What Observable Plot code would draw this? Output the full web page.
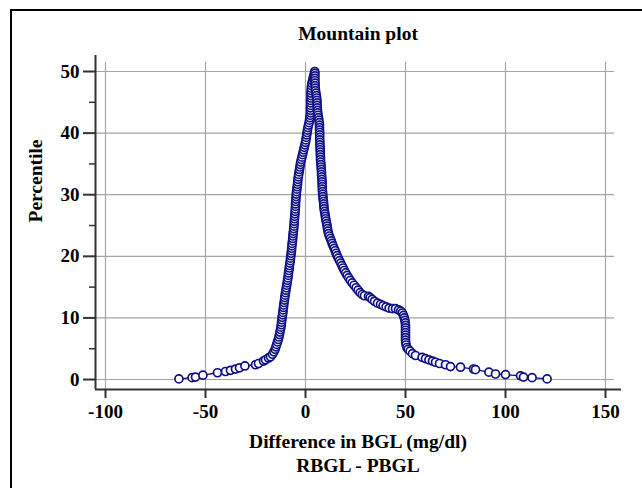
<!DOCTYPE html>
<html>
<head>
<meta charset="utf-8">
<script src="https://cdn.jsdelivr.net/npm/d3@7"></script>
<script src="https://cdn.jsdelivr.net/npm/@observablehq/plot@0.6"></script>
<style>
  html, body { margin: 0; padding: 0; background: #fff; overflow: hidden; }
  #wrap { position: relative; width: 642px; height: 488px; }
  #wrap svg { position: absolute; left: 0; top: 0; }
  #border { position: absolute; left: 10px; top: 9px; width: 700px; height: 600px;
            border-left: 2px solid #000; border-top: 2px solid #000; pointer-events: none; }
</style>
</head>
<body>
<div id="wrap"><div id="border"></div></div>
<script>
// Rising side of the mountain (sorted differences, RBGL - PBGL, mg/dl)
const riseX = [
  -63.3,-56.7,-55,-51.3,-44,-40,-37.5,-35,-33,-30.3,-25,-23.5,-21,-20,-18.5,-17.5,-16.5,-15.8,
  -15.2,-14.8,-14.4,-14.0,-13.6,-13.3,-13.0,-12.8,-12.5,-12.3,
  -12.1,-12.0,-11.8,-11.7,-11.5,-11.3,-11.2,-11.0,-10.9,-10.7,
  -10.5,-10.4,-10.2,-10.0,-9.8,-9.6,-9.4,-9.2,-9.0,-8.8,
  -8.6,-8.5,-8.3,-8.1,-8.0,-7.8,-7.6,-7.5,-7.3,-7.2,
  -7.0,-6.9,-6.8,-6.7,-6.5,-6.4,-6.3,-6.2,-6.0,-5.9,
  -5.8,-5.7,-5.6,-5.5,-5.4,-5.3,-5.2,-5.1,-5.0,-5.0,
  -4.9,-4.8,-4.7,-4.6,-4.5,-4.3,-4.2,-4.0,-3.9,-3.8,
  -3.6,-3.4,-3.2,-3.0,-2.8,-2.6,-2.4,-2.1,-1.8,-1.5,
  -1.2,-0.9,-0.6,-0.3,0.0,0.2,0.4,0.6,0.8,1.0,
  1.2,1.5,1.8,2.0,2.2,2.4,2.5,2.5,2.5,2.6,
  2.6,2.6,2.7,2.7,2.7,2.8,2.9,3.0,3.2,3.5,
  3.8,4.1,4.4,4.6
];
// Percentile for each rising point
const riseY = [
  0.1,0.3,0.4,0.7,1.1,1.3,1.5,1.7,1.9,2.2,2.4,2.6,3.0,3.2,3.5,3.7,4.1,4.5,
  4.9,5.3,5.7,6.1,6.5,6.9,7.3,7.7,8.1,8.5,
  8.9,9.3,9.7,10.1,10.5,10.9,11.3,11.7,12.1,12.5,
  12.9,13.3,13.7,14.1,14.5,14.9,15.3,15.7,16.1,16.5,
  16.9,17.3,17.7,18.1,18.5,18.9,19.3,19.7,20.1,20.5,
  20.9,21.3,21.7,22.1,22.5,22.9,23.3,23.7,24.1,24.5,
  24.9,25.3,25.7,26.1,26.5,26.9,27.3,27.7,28.1,28.5,
  28.9,29.3,29.7,30.1,30.5,30.9,31.3,31.7,32.1,32.5,
  32.9,33.3,33.7,34.1,34.5,34.9,35.3,35.7,36.1,36.5,
  36.9,37.3,37.7,38.1,38.5,38.9,39.3,39.7,40.1,40.5,
  40.9,41.3,41.7,42.1,42.5,42.9,43.3,43.7,44.1,44.5,
  44.9,45.3,45.7,46.1,46.5,46.9,47.3,47.7,48.1,48.5,
  48.9,49.3,49.7,50.0
];
// Falling side of the mountain
const fallX = [
  4.7,4.7,4.7,4.7,4.8,4.8,4.9,5.0,5.2,5.4,
  5.6,5.7,5.8,5.8,5.9,6.0,6.1,6.3,6.5,6.7,
  6.9,7.0,7.0,7.0,7.1,7.1,7.1,7.1,7.2,7.2,
  7.3,7.3,7.4,7.4,7.5,7.5,7.6,7.7,7.8,7.9,
  8.0,8.0,8.1,8.2,8.3,8.3,8.4,8.4,8.5,8.6,
  8.7,8.8,9.0,9.1,9.2,9.3,9.5,9.7,9.9,10.1,
  10.3,10.6,10.8,11.0,11.2,11.5,11.9,12.4,12.9,13.3,
  13.8,14.3,14.8,15.3,15.8,16.4,17.0,17.6,18.2,18.8,
  19.4,20.1,20.8,21.6,22.4,23.3,24.3,25.3,26.3,27.3,
  28.4,29.5,31.5,32.3,33.3,34.5,36.0,37.5,38.8,40.3,
  41.8,43.5,45.0,46.5,47.6,48.4,49.0,49.4,49.7,49.9,
  50.0,50.0,50.0,50.0,50.0,50.0,50.0,50.1,50.3,50.7,
  51.3,52.3,53.5,55.0,58.3,60.0,61.7,63.5,65.0,67.0,
  70.0,72.5,77.5,84.0,85.0,91.7,95.0,100.0,107.5,109.0,
  113.3,120.8
];
const fallY = [
  49.7,49.3,48.9,48.5,48.1,47.7,47.3,46.9,46.5,46.1,
  45.7,45.3,44.9,44.5,44.1,43.7,43.3,42.9,42.5,42.1,
  41.7,41.3,40.9,40.5,40.1,39.7,39.3,38.9,38.5,38.1,
  37.7,37.3,36.9,36.5,36.1,35.7,35.3,34.9,34.5,34.1,
  33.7,33.3,32.9,32.5,32.1,31.7,31.3,30.9,30.5,30.1,
  29.7,29.3,28.9,28.5,28.1,27.7,27.3,26.9,26.5,26.1,
  25.7,25.3,24.9,24.5,24.1,23.7,23.3,22.9,22.5,22.1,
  21.7,21.3,20.9,20.5,20.1,19.7,19.3,18.9,18.5,18.1,
  17.7,17.3,16.9,16.5,16.1,15.7,15.3,14.9,14.5,14.1,
  13.8,13.6,13.5,13.3,13.0,12.7,12.4,12.2,12.0,11.8,
  11.6,11.5,11.5,11.3,11.1,10.8,10.4,10.0,9.6,9.2,
  8.8,8.4,8.0,7.6,7.2,6.8,6.4,6.0,5.6,5.2,
  4.9,4.6,4.2,3.9,3.6,3.4,3.2,3.0,2.8,2.6,
  2.4,2.1,2.0,1.7,1.6,1.2,0.9,0.8,0.6,0.4,
  0.3,0.1
];
const xTicks = [-100, -50, 0, 50, 100, 150];
const yTicks = [0, 10, 20, 30, 40, 50];
const yMinorTicks = [5, 15, 25, 35, 45];
const titleText = "Mountain plot";
const yLabel = "Percentile";
const xLabel1 = "Difference in BGL (mg/dl)";
const xLabel2 = "RBGL - PBGL";

const points = riseX.map((d, i) => ({x: d, y: riseY[i]}))
  .concat(fallX.map((d, i) => ({x: d, y: fallY[i]})));

const navy = "#0f0f85";
const serif = "'Liberation Serif', 'Times New Roman', serif";
const xMin = -105, xMax = 157.5, yMin = -1.62, yMax = 52.6;

const chart = Plot.plot({
  width: 642,
  height: 488,
  marginLeft: 95,
  marginRight: 22,
  marginTop: 55,
  marginBottom: 99,
  style: {background: "transparent", fontFamily: serif, color: "black"},
  x: {domain: [xMin, xMax]},
  y: {domain: [yMin, yMax]},
  marks: [
    Plot.ruleX(xTicks, {y1: yMin, y2: 51.5, stroke: "#a4a4a4", strokeWidth: 1.2}),
    Plot.ruleY(yTicks, {x1: xMin, x2: 154.5, stroke: "#a4a4a4", strokeWidth: 1.2}),
    Plot.line(points, {x: "x", y: "y", stroke: navy, strokeWidth: 1.3}),
    Plot.dot(points, {x: "x", y: "y", r: 4, fill: "white", stroke: navy, strokeWidth: 1.7}),
    Plot.ruleX([xMin], {y1: yMin, y2: yMax, stroke: "#333", strokeWidth: 2}),
    Plot.ruleY([yMin], {x1: xMin, x2: 158, stroke: "#333", strokeWidth: 2}),
    Plot.axisX({ticks: xTicks, tickFormat: d => String(d), tickSize: 9, tickPadding: 6, stroke: "#333", strokeWidth: 2,
      fill: "black", fontSize: 19, fontWeight: "bold", fontFamily: serif, label: null}),
    Plot.axisY({ticks: yTicks, tickFormat: d => String(d), tickSize: 12, tickPadding: 4, stroke: "#333", strokeWidth: 2,
      fill: "black", fontSize: 19, fontWeight: "bold", fontFamily: serif, label: null}),
    Plot.axisY({ticks: yMinorTicks, tickSize: 6, tickFormat: () => "", stroke: "#333", strokeWidth: 1.5, label: null}),
    Plot.text([titleText], {text: d => d, frameAnchor: "top", dy: -22, lineAnchor: "middle",
      fontSize: 19.5, fontWeight: "bold", fontFamily: serif, fill: "black"}),
    Plot.text([yLabel], {text: d => d, frameAnchor: "left", dx: -60, rotate: -90, lineAnchor: "middle",
      fontSize: 19.5, fontWeight: "bold", fontFamily: serif, fill: "black"}),
    Plot.text([xLabel1], {text: d => d, frameAnchor: "bottom", dy: 52, lineAnchor: "middle",
      fontSize: 19.5, fontWeight: "bold", fontFamily: serif, fill: "black"}),
    Plot.text([xLabel2], {text: d => d, frameAnchor: "bottom", dy: 76, lineAnchor: "middle",
      fontSize: 19.5, fontWeight: "bold", fontFamily: serif, fill: "black"})
  ]
});
document.getElementById("wrap").insertBefore(chart, document.getElementById("border"));
</script>
</body>
</html>
